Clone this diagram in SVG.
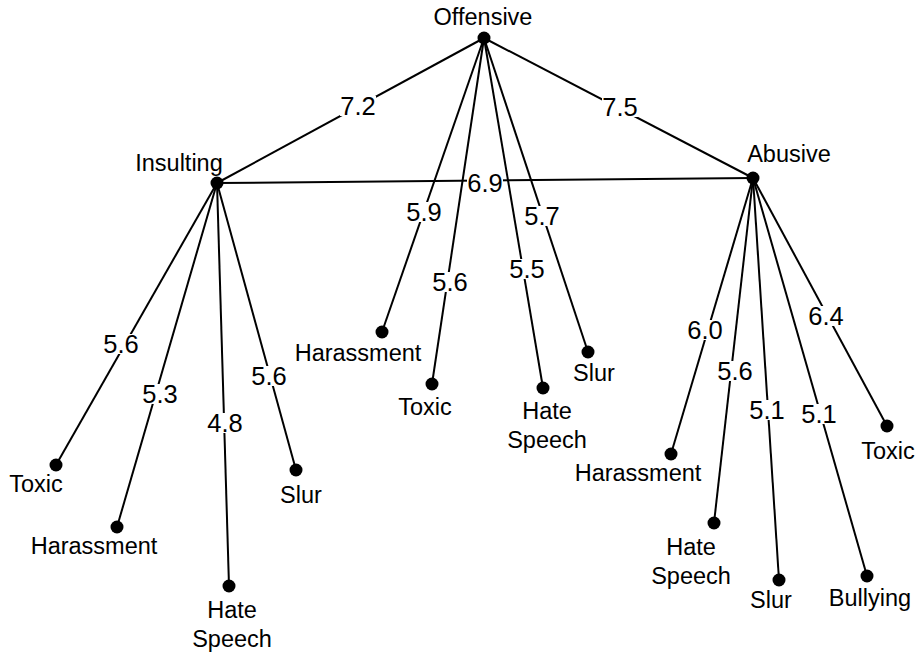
<svg xmlns="http://www.w3.org/2000/svg" width="917" height="655" viewBox="0 0 917 655">
<style>
.e{stroke:#000;stroke-width:2;fill:none}
.d{fill:#000}
.n{font-family:"Liberation Sans",Arial,sans-serif;font-size:23.5px;fill:#000;text-anchor:middle}
.w{font-family:"Liberation Sans",Arial,sans-serif;font-size:25.5px;fill:#000;text-anchor:middle}
.bg{fill:#fff}
</style>
<rect width="917" height="655" fill="#fff"/>
<g id="connectors">
<line class="e" x1="484" y1="38" x2="217" y2="183"/>
<line class="e" x1="484" y1="38" x2="753" y2="178"/>
<line class="e" x1="217" y1="183" x2="753" y2="178"/>
<line class="e" x1="484" y1="38" x2="382" y2="332"/>
<line class="e" x1="484" y1="38" x2="432" y2="384"/>
<line class="e" x1="484" y1="38" x2="543" y2="388"/>
<line class="e" x1="484" y1="38" x2="588" y2="352"/>
<line class="e" x1="217" y1="183" x2="56" y2="465"/>
<line class="e" x1="217" y1="183" x2="117" y2="527"/>
<line class="e" x1="217" y1="183" x2="229" y2="586"/>
<line class="e" x1="217" y1="183" x2="296" y2="470"/>
<line class="e" x1="753" y1="178" x2="671" y2="454"/>
<line class="e" x1="753" y1="178" x2="714" y2="523"/>
<line class="e" x1="753" y1="178" x2="779" y2="580"/>
<line class="e" x1="753" y1="178" x2="867" y2="576"/>
<line class="e" x1="753" y1="178" x2="887" y2="426"/>
<g id="edge-labels">
<rect class="bg" x="340" y="96" width="36" height="20"/><text class="w" x="358" y="115">7.2</text>
<rect class="bg" x="602" y="97" width="36" height="20"/><text class="w" x="620" y="116">7.5</text>
<rect class="bg" x="467" y="173" width="36" height="20"/><text class="w" x="485" y="192">6.9</text>
<rect class="bg" x="406" y="202" width="36" height="20"/><text class="w" x="424" y="221">5.9</text>
<rect class="bg" x="432" y="272" width="36" height="20"/><text class="w" x="450" y="291">5.6</text>
<rect class="bg" x="509" y="259" width="36" height="20"/><text class="w" x="527" y="278">5.5</text>
<rect class="bg" x="524" y="206" width="36" height="20"/><text class="w" x="542" y="225">5.7</text>
<rect class="bg" x="103" y="334" width="36" height="20"/><text class="w" x="121" y="353">5.6</text>
<rect class="bg" x="142" y="384" width="36" height="20"/><text class="w" x="160" y="403">5.3</text>
<rect class="bg" x="207" y="413" width="36" height="20"/><text class="w" x="225" y="432">4.8</text>
<rect class="bg" x="251" y="366" width="36" height="20"/><text class="w" x="269" y="385">5.6</text>
<rect class="bg" x="687" y="320" width="36" height="20"/><text class="w" x="705" y="339">6.0</text>
<rect class="bg" x="717" y="361" width="36" height="20"/><text class="w" x="735" y="380">5.6</text>
<rect class="bg" x="749" y="400" width="36" height="20"/><text class="w" x="767" y="419">5.1</text>
<rect class="bg" x="801" y="404" width="36" height="20"/><text class="w" x="819" y="423">5.1</text>
<rect class="bg" x="808" y="306" width="36" height="20"/><text class="w" x="826" y="325">6.4</text>
</g>
</g>
<g id="offensive"><circle class="d" cx="484" cy="38" r="6.5"/><text class="n" x="483" y="25">Offensive</text></g>
<g id="insulting"><circle class="d" cx="217" cy="183" r="6.5"/><text class="n" x="179" y="171">Insulting</text></g>
<g id="abusive"><circle class="d" cx="753" cy="178" r="6.5"/><text class="n" x="789" y="162">Abusive</text></g>
<g id="ins-toxic"><circle class="d" cx="56" cy="465" r="6.5"/><text class="n" x="36" y="492">Toxic</text></g>
<g id="ins-harassment"><circle class="d" cx="117" cy="527" r="6.5"/><text class="n" x="94" y="554">Harassment</text></g>
<g id="ins-hate"><circle class="d" cx="229" cy="586" r="6.5"/><text class="n" x="232" y="618">Hate</text><text class="n" x="232" y="647">Speech</text></g>
<g id="ins-slur"><circle class="d" cx="296" cy="470" r="6.5"/><text class="n" x="301" y="503">Slur</text></g>
<g id="off-harassment"><circle class="d" cx="382" cy="332" r="6.5"/><text class="n" x="358" y="361">Harassment</text></g>
<g id="off-toxic"><circle class="d" cx="432" cy="384" r="6.5"/><text class="n" x="425" y="415">Toxic</text></g>
<g id="off-hate"><circle class="d" cx="543" cy="388" r="6.5"/><text class="n" x="547" y="419">Hate</text><text class="n" x="547" y="448">Speech</text></g>
<g id="off-slur"><circle class="d" cx="588" cy="352" r="6.5"/><text class="n" x="594" y="381">Slur</text></g>
<g id="abu-harassment"><circle class="d" cx="671" cy="454" r="6.5"/><text class="n" x="638" y="481">Harassment</text></g>
<g id="abu-hate"><circle class="d" cx="714" cy="523" r="6.5"/><text class="n" x="691" y="555">Hate</text><text class="n" x="691" y="584">Speech</text></g>
<g id="abu-slur"><circle class="d" cx="779" cy="580" r="6.5"/><text class="n" x="771" y="608">Slur</text></g>
<g id="abu-bullying"><circle class="d" cx="867" cy="576" r="6.5"/><text class="n" x="870" y="606">Bullying</text></g>
<g id="abu-toxic"><circle class="d" cx="887" cy="426" r="6.5"/><text class="n" x="888" y="459">Toxic</text></g>
</svg>
